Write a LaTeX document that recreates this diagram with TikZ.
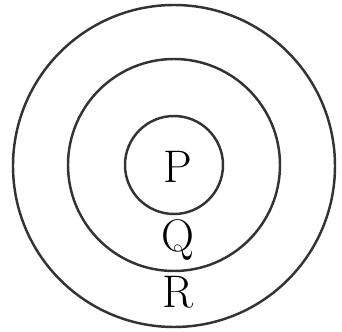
\documentclass[tikz,border=0pt]{standalone}
\usepackage{amsmath}
\usepackage{tikz}

\tikzset{
    ring/.style={circle, draw=black!80, line width=1.4pt, inner sep=0pt},
    letter/.style={anchor=base, font=\fontsize{26}{30}\selectfont}
}

\begin{document}
\begin{tikzpicture}
        \useasboundingbox (-3.48,-3.32) rectangle (3.36,3.32);

        \node[ring, minimum size=6.44cm] (R0) at (0,0) {};
        \node[ring, minimum size=4.24cm] (Q0) at (0,0.02) {};
        \node[ring, minimum size=1.96cm] (P0) at (0,0.02) {};

        \node[letter] (P) at (0.07,-0.34) {P};
        \node[letter] (Q) at (0.08,-1.72) {Q};
        \node[letter] (R) at (0.08,-2.84) {R};
\end{tikzpicture}
\end{document}
